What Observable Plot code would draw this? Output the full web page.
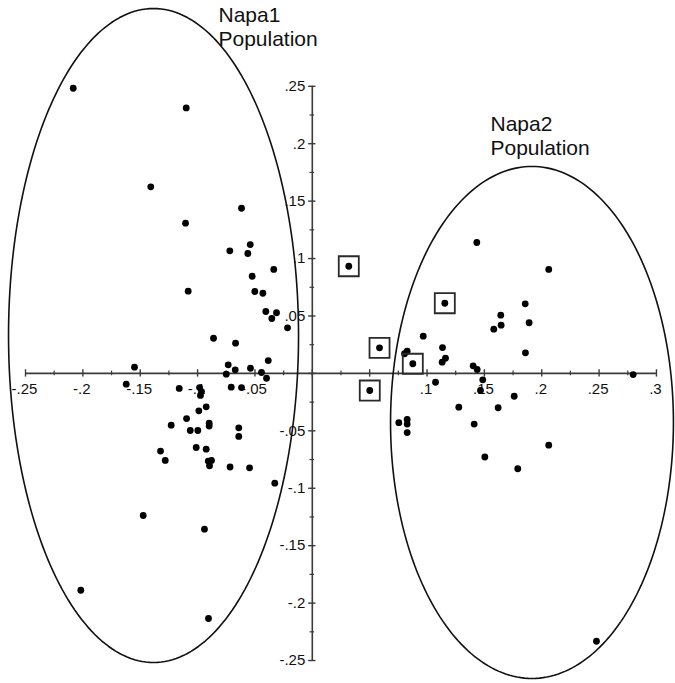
<!DOCTYPE html>
<html>
<head>
<meta charset="utf-8">
<script src="https://cdn.jsdelivr.net/npm/d3@7"></script>
<script src="https://cdn.jsdelivr.net/npm/@observablehq/plot@0.6"></script>
<style>
  html, body { margin: 0; padding: 0; background: #fff; }
  #chart svg { display: block; }
</style>
</head>
<body>
<div id="chart"></div>
<script>
// Napa1 population samples [x, y]
const napa1 = [
  [-0.2084, 0.2483], [-0.1099, 0.2312], [-0.1408, 0.1625], [-0.0617, 0.1438],
  [-0.1105, 0.1308], [-0.0541, 0.1122], [-0.0719, 0.1067], [-0.0562, 0.1044],
  [-0.0336, 0.0905], [-0.0524, 0.0846], [-0.1082, 0.0716], [-0.0501, 0.0713],
  [-0.0431, 0.0698], [-0.0405, 0.0539], [-0.0312, 0.0528], [-0.0353, 0.0478],
  [-0.0216, 0.0397], [-0.0861, 0.0306], [-0.0669, 0.0263], [-0.0384, 0.0112],
  [-0.1550, 0.0054], [-0.0733, 0.0075], [-0.0672, 0.0031], [-0.0750, -0.0007],
  [-0.0539, 0.0045], [-0.0443, 0.0008], [-0.0399, -0.0042], [-0.1622, -0.0094],
  [-0.1160, -0.0131], [-0.0983, -0.0123], [-0.0966, -0.0158], [-0.0975, -0.0192],
  [-0.0707, -0.0120], [-0.0617, -0.0123], [-0.0925, -0.0291], [-0.0989, -0.0326],
  [-0.1096, -0.0393], [-0.0899, -0.0434], [-0.0899, -0.0458], [-0.1230, -0.0451],
  [-0.0641, -0.0474], [-0.0641, -0.0549], [-0.1064, -0.0497], [-0.0998, -0.0497],
  [-0.1323, -0.0676], [-0.1282, -0.0758], [-0.1012, -0.0645], [-0.0925, -0.0660],
  [-0.0907, -0.0763], [-0.0879, -0.0758], [-0.0896, -0.0804], [-0.0717, -0.0815],
  [-0.0547, -0.0822], [-0.0327, -0.0956], [-0.1474, -0.1237], [-0.0940, -0.1356],
  [-0.2018, -0.1888], [-0.0905, -0.2134]
];

// Napa2 population samples [x, y]
const napa2 = [
  [0.1434, 0.1140], [0.2061, 0.0905], [0.1856, 0.0606], [0.1643, 0.0507],
  [0.1646, 0.0420], [0.1582, 0.0385], [0.1890, 0.0441], [0.0967, 0.0324],
  [0.1135, 0.0225], [0.0827, 0.0193], [0.0804, 0.0171], [0.1161, 0.0132],
  [0.1132, 0.0098], [0.1858, 0.0179], [0.1402, 0.0066], [0.1437, 0.0034],
  [0.2797, -0.0010], [0.1486, -0.0056], [0.1074, -0.0077], [0.1466, -0.0149],
  [0.1760, -0.0199], [0.1277, -0.0294], [0.1620, -0.0299], [0.0754, -0.0429],
  [0.0827, -0.0401], [0.0827, -0.0441], [0.0827, -0.0515], [0.1411, -0.0441],
  [0.2061, -0.0625], [0.1504, -0.0728], [0.1791, -0.0830], [0.2477, -0.2332]
];

// Boxed (intermediate) samples [x, y]
const boxed = [
  [0.0318, 0.0933], [0.1155, 0.0611], [0.0586, 0.0223], [0.0876, 0.0084], [0.0501, -0.0149]
];

// Ellipses: name, center x, center y, radius x, radius y
const ellipseNames = ["Napa1", "Napa2"];
const ellipseCx = [-0.1384, 0.1915];
const ellipseCy = [0.0330, -0.0427];
const ellipseRx = [0.1264, 0.1233];
const ellipseRy = [0.2847, 0.2229];

// Group labels
const groupLabelText = ["Napa1\nPopulation", "Napa2\nPopulation"];
const groupLabelX = [-0.0818, 0.1553];
const groupLabelY = [0.3210, 0.2260];

// Axis ticks
const xMajor = [-0.25, -0.2, -0.15, -0.1, -0.05, 0, 0.05, 0.1, 0.15, 0.2, 0.25, 0.3];
const xMinor = [-0.225, -0.175, -0.125, -0.075, -0.025, 0.025, 0.075, 0.125, 0.175, 0.225, 0.275];
const xTickLabelValues = [-0.25, -0.2, -0.15, -0.1, -0.05, 0.1, 0.15, 0.2, 0.25, 0.3];
const xTickLabels = ["-.25", "-.2", "-.15", "-.1", "-.05", ".1", ".15", ".2", ".25", ".3"];
const yMajor = [-0.25, -0.2, -0.15, -0.1, -0.05, 0, 0.05, 0.1, 0.15, 0.2, 0.25];
const yMinor = [-0.225, -0.175, -0.125, -0.075, -0.025, 0.025, 0.075, 0.125, 0.175, 0.225];
const yTickLabelValues = [0.25, 0.2, 0.15, 0.1, 0.05, -0.05, -0.1, -0.15, -0.2, -0.25];
const yTickLabels = [".25", ".2", ".15", ".1", ".05", "-.05", "-.1", "-.15", "-.2", "-.25"];

// ---- build tables ----
const pts1 = napa1.map(([x, y]) => ({x, y}));
const pts2 = napa2.map(([x, y]) => ({x, y}));
const ptsB = boxed.map(([x, y]) => ({x, y}));

const ellipsePts = [];
ellipseNames.forEach((name, k) => {
  const N = 240;
  for (let i = 0; i < N; i++) {
    const t = (i / N) * 2 * Math.PI;
    ellipsePts.push({
      name,
      x: ellipseCx[k] + ellipseRx[k] * Math.cos(t),
      y: ellipseCy[k] + ellipseRy[k] * Math.sin(t)
    });
  }
});
const groupLabels = groupLabelText.map((t, i) => ({text: t, x: groupLabelX[i], y: groupLabelY[i]}));
const xLabelData = xTickLabelValues.map((v, i) => ({v, label: xTickLabels[i]}));
const yLabelData = yTickLabelValues.map((v, i) => ({v, label: yTickLabels[i]}));

const majorLen = 0.0032;
const minorLen = 0.0020;
const axisColor = "#3a3a3a";

const chart = Plot.plot({
  width: 675,
  height: 683,
  margin: 0,
  style: {fontFamily: "'Liberation Sans', Arial, Helvetica, sans-serif", background: "#fff", color: "#111"},
  x: {domain: [-0.2718, 0.3166], axis: null},
  y: {domain: [-0.2700, 0.3247], axis: null},
  marks: [
    // axes through the origin
    Plot.ruleY([0], {x1: xMajor[0], x2: xMajor[xMajor.length - 1], stroke: axisColor, strokeWidth: 1.6}),
    Plot.ruleX([0], {y1: yMajor[0], y2: yMajor[yMajor.length - 1], stroke: axisColor, strokeWidth: 1.6}),
    Plot.ruleX(xMajor, {x: d => d, y1: () => -majorLen, y2: () => majorLen, stroke: axisColor, strokeWidth: 1.4}),
    Plot.ruleX(xMinor, {x: d => d, y1: () => -minorLen, y2: () => minorLen, stroke: axisColor, strokeWidth: 1.2}),
    Plot.ruleY(yMajor, {y: d => d, x1: () => -majorLen, x2: () => majorLen, stroke: axisColor, strokeWidth: 1.4}),
    Plot.ruleY(yMinor, {y: d => d, x1: () => -minorLen, x2: () => minorLen, stroke: axisColor, strokeWidth: 1.2}),
    Plot.text(xLabelData, {x: "v", y: () => 0, text: "label", dy: 16, dx: -1, fontSize: 15, fill: "#111"}),
    Plot.text(yLabelData, {x: () => 0, y: "v", text: "label", textAnchor: "end", dx: -7, fontSize: 15, fill: "#111"}),
    // ellipses
    Plot.line(ellipsePts, {x: "x", y: "y", z: "name", curve: "linear-closed", stroke: "#111", strokeWidth: 1.6}),
    // points
    Plot.dot(pts1, {x: "x", y: "y", r: 3.4, fill: "#000"}),
    Plot.dot(pts2, {x: "x", y: "y", r: 3.4, fill: "#000"}),
    Plot.dot(ptsB, {x: "x", y: "y", r: 3.4, fill: "#000"}),
    Plot.dot(ptsB, {x: "x", y: "y", symbol: "square", r: 11.3, fill: "none", stroke: "#2a2a2a", strokeWidth: 1.8}),
    // group labels
    Plot.text(groupLabels, {x: "x", y: "y", text: "text", textAnchor: "start", lineAnchor: "top", fontSize: 21, lineHeight: 1.15, fill: "#111"})
  ]
});
document.getElementById("chart").appendChild(chart);
</script>
</body>
</html>
